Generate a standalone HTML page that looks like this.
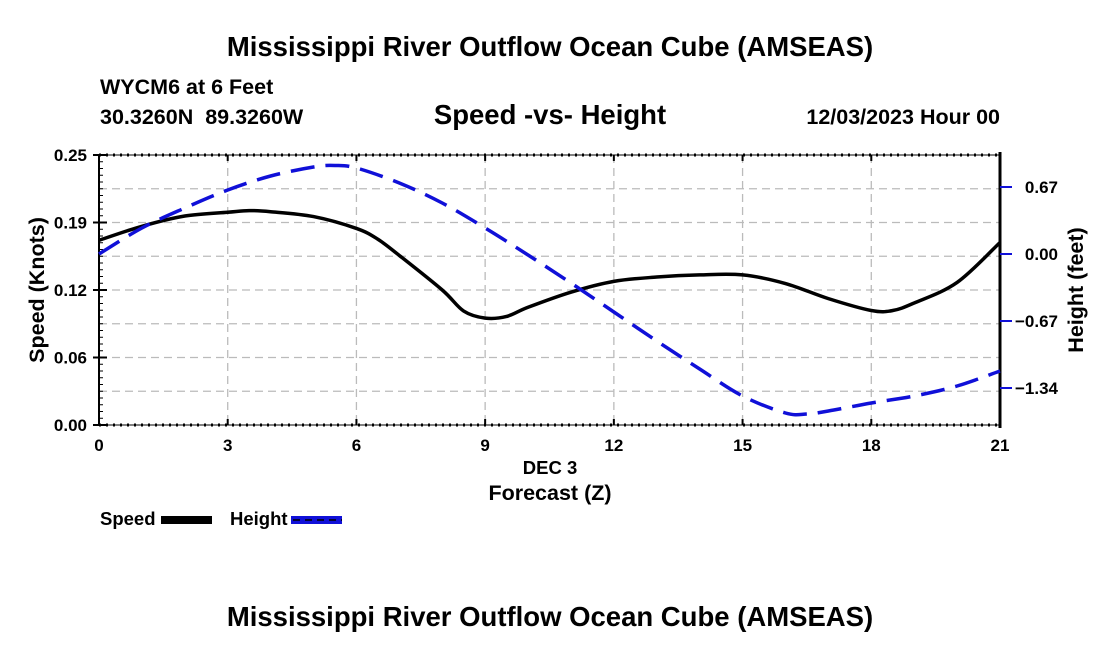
<!DOCTYPE html>
<html><head><meta charset="utf-8"><style>
body{margin:0;background:#fff;width:1100px;height:650px;overflow:hidden;font-family:"Liberation Sans",sans-serif}
svg text{font-family:"Liberation Sans",sans-serif;font-weight:bold;fill:#000}
</style></head><body>
<svg id="chart" width="1100" height="650">
<text x="550" y="56" font-size="27.5" text-anchor="middle">Mississippi River Outflow Ocean Cube (AMSEAS)</text>
<text x="100" y="94" font-size="21.5">WYCM6 at 6 Feet</text>
<text x="100" y="124" font-size="21.5" xml:space="preserve">30.3260N  89.3260W</text>
<text x="550" y="124" font-size="27.5" text-anchor="middle">Speed -vs- Height</text>
<text x="1000" y="124" font-size="21.5" text-anchor="end">12/03/2023 Hour 00</text>
<g id="grid"></g>
<g id="axes"></g>
<g id="series"></g>
<text x="550" y="474" font-size="18.5" text-anchor="middle">DEC 3</text>
<text x="550" y="500" font-size="21.5" text-anchor="middle">Forecast (Z)</text>
<text transform="translate(44,290) rotate(-90)" font-size="21.5" text-anchor="middle">Speed (Knots)</text>
<text transform="translate(1083,290) rotate(-90)" font-size="21.5" text-anchor="middle">Height (feet)</text>
<g>
<text x="100" y="525" font-size="18.5">Speed</text>
<rect x="161" y="516" width="51" height="8" fill="#000"/>
<text x="230" y="525" font-size="18.5">Height</text>
<rect x="291" y="516" width="51" height="8" fill="#1010d8"/>
<line x1="293" y1="520" x2="342" y2="520" stroke="#000" stroke-width="1.5" stroke-dasharray="7,5"/>
</g>
<text x="550" y="626" font-size="27.5" text-anchor="middle">Mississippi River Outflow Ocean Cube (AMSEAS)</text>
</svg>
<script>
const hours=[0,1,2,3,3.5,4,5,6,6.5,7,8,8.5,9,9.5,10,11,12,13,14,15,16,17,18,18.5,19,20,21];
const speed=[0.171,0.184,0.1935,0.197,0.1985,0.1975,0.193,0.182,0.172,0.157,0.125,0.1055,0.099,0.1005,0.109,0.123,0.133,0.137,0.139,0.139,0.131,0.117,0.106,0.106,0.113,0.132,0.169];
const hHours=[0,1,2,3,4,5,5.5,6,7,8,9,10,11,12,13,14,15,16,16.5,17,18,19,20,21];
const height=[0,0.26,0.46,0.64,0.78,0.87,0.885,0.86,0.71,0.51,0.26,-0.01,-0.29,-0.58,-0.87,-1.15,-1.42,-1.59,-1.6,-1.57,-1.49,-1.42,-1.32,-1.17];
const xTicks=[0,3,6,9,12,15,18,21];
const yTicks=[0,0.0625,0.125,0.1875,0.25];
const yTickLabels=["0.00","0.06","0.12","0.19","0.25"];
const y2Ticks=[0.67,0,-0.67,-1.34];
const y2TickLabels=["0.67","0.00","\u22120.67","\u22121.34"];
const L=99,R=1000,T=155,B=425;
const xs=h=>L+(R-L)*h/21;
const ys=v=>B-(B-T)*v/0.25;
const y2s=v=>254-100*v;
const NS="http://www.w3.org/2000/svg";
function mk(p,tag,at){const e=document.createElementNS(NS,tag);for(const k in at)e.setAttribute(k,at[k]);p.appendChild(e);return e;}
const grid=document.getElementById('grid'),axes=document.getElementById('axes'),ser=document.getElementById('series');
for(let k=1;k<8;k++){const y=ys(k*0.03125);
const g=mk(grid,'line',{x1:L,x2:R,y1:y,y2:y,stroke:'#bbb','stroke-width':1.3,'stroke-dasharray':'8,5'});

}
xTicks.forEach(h=>{const x=xs(h);
if(h>0&&h<21){const g=mk(grid,'line',{x1:x,x2:x,y1:T,y2:B,stroke:'#bbb','stroke-width':1.3,'stroke-dasharray':'8,5'});

}
mk(axes,'line',{x1:x,x2:x,y1:B,y2:B-6,stroke:'#000','stroke-width':2});
mk(axes,'line',{x1:x,x2:x,y1:T,y2:T+6,stroke:'#000','stroke-width':2});
const t=mk(axes,'text',{x:x,y:B+26,'font-size':17,'text-anchor':'middle'});t.textContent=h;

});
mk(axes,'line',{x1:L,x2:R,y1:T,y2:T,stroke:'#000','stroke-width':1});
mk(axes,'line',{x1:L,x2:R,y1:T,y2:T,stroke:'#000','stroke-width':3,'stroke-dasharray':'2,5'});
mk(axes,'line',{x1:L,x2:R,y1:B,y2:B,stroke:'#000','stroke-width':1});
mk(axes,'line',{x1:L,x2:R,y1:B,y2:B,stroke:'#000','stroke-width':3,'stroke-dasharray':'2,5'});
mk(axes,'line',{x1:L,x2:L,y1:T,y2:B,stroke:'#000','stroke-width':2});
mk(axes,'line',{x1:R,x2:R,y1:T-3,y2:B+3,stroke:'#000','stroke-width':3});
for(let k=0;k<=40;k++){const y=ys(k*0.25/40);mk(axes,'line',{x1:L,x2:L+4,y1:y,y2:y,stroke:'#000','stroke-width':1});}
yTicks.forEach((v,i)=>{const y=ys(v);mk(axes,'line',{x1:L-6,x2:L+8,y1:y,y2:y,stroke:'#000','stroke-width':2});
const t=mk(axes,'text',{x:L-12,y:y+6,'font-size':17,'text-anchor':'end'});t.textContent=yTickLabels[i];

});
y2Ticks.forEach((v,i)=>{const y=y2s(v);mk(axes,'line',{x1:R,x2:R+12,y1:y,y2:y,stroke:'#1010d8','stroke-width':2});
const t=mk(axes,'text',{x:1058,y:y+6,'font-size':17,'text-anchor':'end'});t.textContent=y2TickLabels[i];

});
function smooth(pts){let d=`M${pts[0][0]},${pts[0][1]}`;
for(let i=0;i<pts.length-1;i++){const p0=pts[Math.max(i-1,0)],p1=pts[i],p2=pts[i+1],p3=pts[Math.min(i+2,pts.length-1)];
d+=` C${p1[0]+(p2[0]-p0[0])/6},${p1[1]+(p2[1]-p0[1])/6} ${p2[0]-(p3[0]-p1[0])/6},${p2[1]-(p3[1]-p1[1])/6} ${p2[0]},${p2[1]}`;}return d;}
const sp=mk(ser,'path',{d:smooth(hours.map((h,i)=>[xs(h),ys(speed[i])])),fill:'none',stroke:'#000','stroke-width':3.5});


const hp=mk(ser,'path',{d:smooth(hHours.map((h,i)=>[xs(h),y2s(height[i])])),fill:'none',stroke:'#1010d8','stroke-width':3.5,'stroke-dasharray':'24,11'});


</script>
</body></html>
